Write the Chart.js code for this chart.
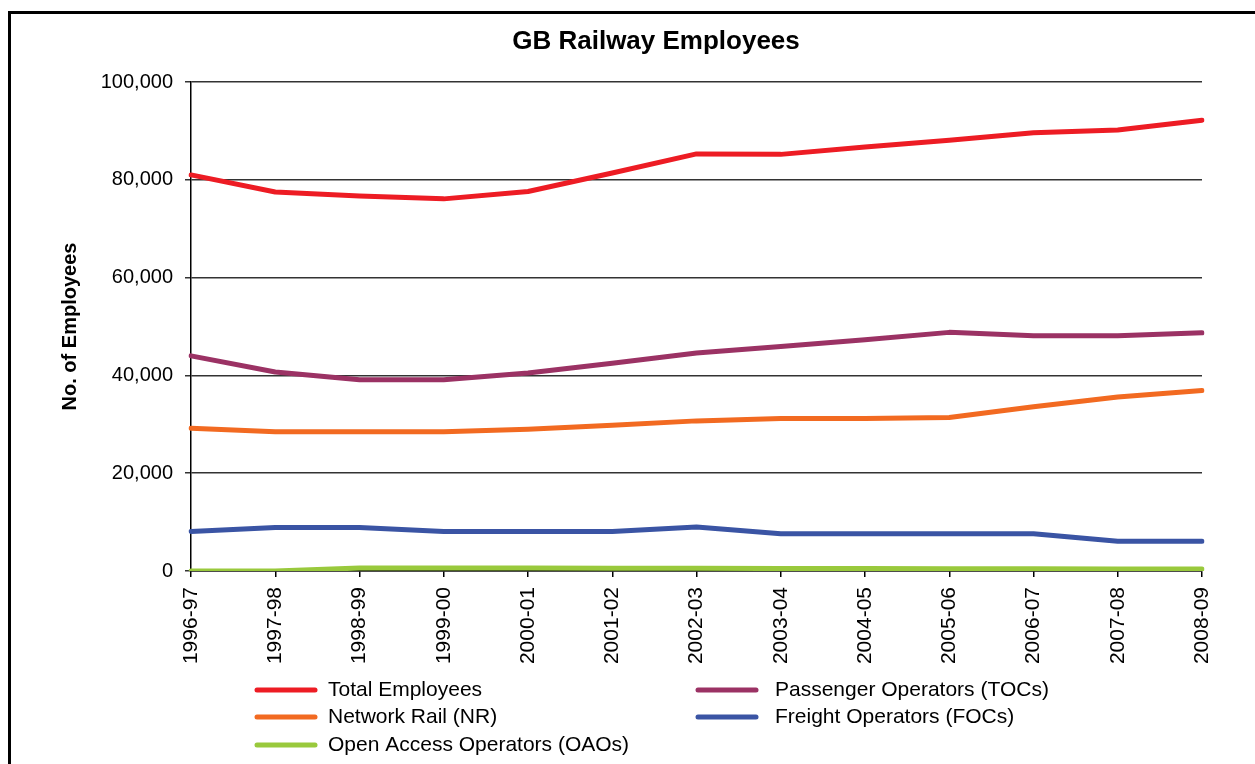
<!DOCTYPE html>
<html>
<head>
<meta charset="utf-8">
<script src="https://cdn.jsdelivr.net/npm/chart.js@4/dist/chart.umd.min.js"></script>
<style>
  html, body { margin: 0; padding: 0; background: #fff; }
  #wrap { width: 1255px; height: 764px; position: relative; }
</style>
</head>
<body>
<div id="wrap"><canvas id="c"></canvas></div>
<script>
const categories = ['1996-97','1997-98','1998-99','1999-00','2000-01','2001-02','2002-03','2003-04','2004-05','2005-06','2006-07','2007-08','2008-09'];
const totalEmployees = [81000, 77500, 76700, 76100, 77600, 81400, 85300, 85200, 86700, 88100, 89600, 90200, 92200];
const passengerTOCs  = [44000, 40700, 39100, 39100, 40500, 42500, 44600, 45900, 47300, 48800, 48100, 48100, 48700];
const networkRail    = [29200, 28500, 28500, 28500, 29000, 29800, 30700, 31200, 31200, 31400, 33600, 35600, 36900];
const freightFOCs    = [8100, 8900, 8900, 8100, 8100, 8100, 9000, 7600, 7600, 7600, 7600, 6100, 6100];
const openAccessOAOs = [0, 0, 600, 600, 600, 550, 550, 500, 500, 450, 450, 400, 400];
const yTicks = [0, 20000, 40000, 60000, 80000, 100000];

const FONT = "'Liberation Sans', Arial, Helvetica, sans-serif";

function ds(label, data, color) {
  return { label, data, borderColor: color, backgroundColor: color, borderWidth: 5,
           pointRadius: 0, pointHoverRadius: 0, tension: 0, fill: false,
           borderCapStyle: 'round', borderJoinStyle: 'round' };
}

const framePlugin = {
  id: 'frame',
  beforeDraw(chart) {
    const ctx = chart.ctx;
    ctx.save();
    ctx.fillStyle = '#fff';
    ctx.fillRect(0, 0, chart.width, chart.height);
    ctx.strokeStyle = '#000';
    ctx.lineWidth = 3;
    ctx.strokeRect(9.5, 12.5, 3000, 3000);
    ctx.restore();
  },
  afterDraw(chart) {
    const ctx = chart.ctx;
    ctx.save();
    // Title
    ctx.fillStyle = '#000';
    ctx.font = "bold 26px " + FONT;
    ctx.textAlign = 'center';
    ctx.textBaseline = 'middle';
    ctx.fillText('GB Railway Employees', 656, 42);
    // Legend (two columns)
    const lineX = [257, 698], textX = [328, 775], rowY = [690, 717, 745];
    ctx.font = "21px " + FONT;
    ctx.textAlign = 'left';
    chart.data.datasets.forEach((d, i) => {
      const col = i % 2, row = Math.floor(i / 2);
      const y = rowY[row];
      ctx.strokeStyle = d.borderColor;
      ctx.lineWidth = 5;
      ctx.lineCap = 'round';
      ctx.beginPath();
      ctx.moveTo(lineX[col], y);
      ctx.lineTo(lineX[col] + 58, y);
      ctx.stroke();
      ctx.fillStyle = '#000';
      ctx.fillText(d.label, textX[col], y);
    });
    ctx.restore();
  }
};

new Chart(document.getElementById('c'), {
  type: 'line',
  data: {
    labels: categories,
    datasets: [
      ds('Total Employees', totalEmployees, '#ED1C24'),
      ds('Passenger Operators (TOCs)', passengerTOCs, '#9B3264'),
      ds('Network Rail (NR)', networkRail, '#F26A21'),
      ds('Freight Operators (FOCs)', freightFOCs, '#3A54A4'),
      ds('Open Access Operators (OAOs)', openAccessOAOs, '#99C93C')
    ]
  },
  options: {
    responsive: true,
    maintainAspectRatio: false,
    animation: false,
    layout: { padding: { left: 0, right: 53, top: 82, bottom: 0 } },
    plugins: { legend: { display: false }, title: { display: false }, tooltip: { enabled: false } },
    scales: {
      x: {
        offset: false,
        border: { color: '#000', width: 1.5 },
        grid: { drawOnChartArea: false, drawTicks: true, tickLength: 6, color: '#000', lineWidth: 1.5 },
        ticks: { color: '#000', font: { family: FONT, size: 21 }, minRotation: 90, maxRotation: 90, padding: 10, autoSkip: false },
        afterFit(scale) { scale.height = 193; }
      },
      y: {
        min: 0, max: 100000,
        afterBuildTicks(scale) { scale.ticks = yTicks.map(v => ({ value: v })); },
        border: { color: '#000', width: 1.5 },
        grid: { color: '#333', lineWidth: 1.5, tickLength: 6, drawTicks: true },
        ticks: { color: '#000', font: { family: FONT, size: 20 }, padding: 12,
                 callback: v => v.toLocaleString('en-US') },
        title: { display: true, text: 'No. of Employees', color: '#000',
                 font: { family: FONT, size: 20, weight: 'bold' }, padding: { top: 58, bottom: 0 } },
        afterFit(scale) { scale.width = 191; }
      }
    }
  },
  plugins: [framePlugin]
});
</script>
</body>
</html>
